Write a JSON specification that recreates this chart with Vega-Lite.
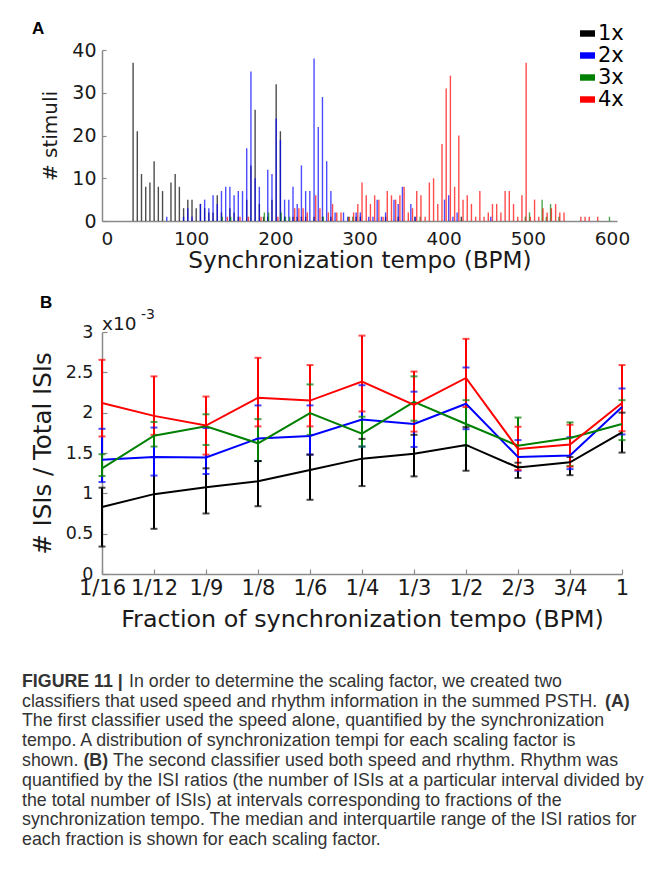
{
  "$schema": "https://vega.github.io/schema/vega-lite/v6.json",
  "background": "white",
  "padding": {"left": 22, "top": 20, "right": 5, "bottom": 5},
  "spacing": 21,
  "config": {
    "font": "DejaVu Sans",
    "view": {"stroke": null},
    "axis": {
      "grid": false,
      "domainColor": "#8a8a8a",
      "domainWidth": 1.5,
      "tickColor": "#8a8a8a",
      "tickWidth": 1.2,
      "labelColor": "#1a1a1a",
      "titleColor": "#1a1a1a",
      "labelFont": "DejaVu Sans",
      "titleFont": "DejaVu Sans",
      "titleFontWeight": "normal"
    }
  },
  "datasets": {
    "bars": [
      {"s": "1x", "t": 31, "n": 37}, {"s": "1x", "t": 36, "n": 21}, {"s": "1x", "t": 41, "n": 11}, {"s": "1x", "t": 46, "n": 8},
      {"s": "1x", "t": 51, "n": 9}, {"s": "1x", "t": 56, "n": 14}, {"s": "1x", "t": 61, "n": 8}, {"s": "1x", "t": 66, "n": 7},
      {"s": "1x", "t": 76, "n": 9}, {"s": "1x", "t": 81, "n": 11}, {"s": "1x", "t": 86, "n": 8}, {"s": "1x", "t": 91, "n": 3},
      {"s": "1x", "t": 96, "n": 5}, {"s": "1x", "t": 101, "n": 5}, {"s": "1x", "t": 106, "n": 3}, {"s": "1x", "t": 111, "n": 4},
      {"s": "1x", "t": 116, "n": 3}, {"s": "1x", "t": 121, "n": 2}, {"s": "1x", "t": 126, "n": 2}, {"s": "1x", "t": 131, "n": 6},
      {"s": "1x", "t": 136, "n": 2}, {"s": "1x", "t": 146, "n": 3}, {"s": "1x", "t": 151, "n": 2}, {"s": "1x", "t": 156, "n": 1},
      {"s": "1x", "t": 166, "n": 5}, {"s": "1x", "t": 171, "n": 13}, {"s": "1x", "t": 176, "n": 26}, {"s": "1x", "t": 181, "n": 4},
      {"s": "1x", "t": 186, "n": 1}, {"s": "1x", "t": 191, "n": 1}, {"s": "1x", "t": 196, "n": 5}, {"s": "1x", "t": 201, "n": 32},
      {"s": "1x", "t": 206, "n": 21}, {"s": "1x", "t": 211, "n": 1}, {"s": "1x", "t": 221, "n": 1}, {"s": "1x", "t": 226, "n": 1},
      {"s": "1x", "t": 231, "n": 1}, {"s": "1x", "t": 236, "n": 1}, {"s": "1x", "t": 246, "n": 1}, {"s": "1x", "t": 256, "n": 1},
      {"s": "1x", "t": 266, "n": 1}, {"s": "1x", "t": 296, "n": 1}, {"s": "1x", "t": 301, "n": 1}, {"s": "1x", "t": 331, "n": 1},
      {"s": "1x", "t": 346, "n": 1}, {"s": "1x", "t": 366, "n": 1}, {"s": "1x", "t": 421, "n": 1},
      {"s": "2x", "t": 71, "n": 1}, {"s": "2x", "t": 91, "n": 1}, {"s": "2x", "t": 96, "n": 3}, {"s": "2x", "t": 101, "n": 1},
      {"s": "2x", "t": 111, "n": 4}, {"s": "2x", "t": 116, "n": 5}, {"s": "2x", "t": 121, "n": 3}, {"s": "2x", "t": 126, "n": 6},
      {"s": "2x", "t": 131, "n": 4}, {"s": "2x", "t": 136, "n": 7}, {"s": "2x", "t": 141, "n": 8}, {"s": "2x", "t": 146, "n": 8},
      {"s": "2x", "t": 151, "n": 6}, {"s": "2x", "t": 156, "n": 7}, {"s": "2x", "t": 161, "n": 7}, {"s": "2x", "t": 166, "n": 17},
      {"s": "2x", "t": 171, "n": 35}, {"s": "2x", "t": 176, "n": 10}, {"s": "2x", "t": 181, "n": 8}, {"s": "2x", "t": 191, "n": 12},
      {"s": "2x", "t": 196, "n": 11}, {"s": "2x", "t": 201, "n": 24}, {"s": "2x", "t": 206, "n": 19}, {"s": "2x", "t": 211, "n": 5},
      {"s": "2x", "t": 216, "n": 5}, {"s": "2x", "t": 221, "n": 8}, {"s": "2x", "t": 226, "n": 4}, {"s": "2x", "t": 231, "n": 13},
      {"s": "2x", "t": 236, "n": 7}, {"s": "2x", "t": 241, "n": 7}, {"s": "2x", "t": 246, "n": 38}, {"s": "2x", "t": 251, "n": 22},
      {"s": "2x", "t": 256, "n": 29}, {"s": "2x", "t": 261, "n": 14}, {"s": "2x", "t": 266, "n": 7}, {"s": "2x", "t": 271, "n": 2},
      {"s": "2x", "t": 281, "n": 2}, {"s": "2x", "t": 286, "n": 1}, {"s": "2x", "t": 296, "n": 2}, {"s": "2x", "t": 301, "n": 2},
      {"s": "2x", "t": 311, "n": 1}, {"s": "2x", "t": 316, "n": 1}, {"s": "2x", "t": 321, "n": 5}, {"s": "2x", "t": 326, "n": 1},
      {"s": "2x", "t": 331, "n": 2}, {"s": "2x", "t": 341, "n": 5}, {"s": "2x", "t": 346, "n": 4}, {"s": "2x", "t": 351, "n": 8},
      {"s": "2x", "t": 361, "n": 4}, {"s": "2x", "t": 366, "n": 1}, {"s": "2x", "t": 401, "n": 5}, {"s": "2x", "t": 406, "n": 6},
      {"s": "2x", "t": 411, "n": 1}, {"s": "2x", "t": 416, "n": 2}, {"s": "2x", "t": 456, "n": 1},
      {"s": "3x", "t": 137, "n": 1}, {"s": "3x", "t": 147, "n": 1}, {"s": "3x", "t": 187, "n": 2}, {"s": "3x", "t": 192, "n": 2},
      {"s": "3x", "t": 207, "n": 2}, {"s": "3x", "t": 212, "n": 1}, {"s": "3x", "t": 217, "n": 1}, {"s": "3x", "t": 257, "n": 1},
      {"s": "3x", "t": 287, "n": 1}, {"s": "3x", "t": 292, "n": 1}, {"s": "3x", "t": 372, "n": 1}, {"s": "3x", "t": 497, "n": 1},
      {"s": "3x", "t": 502, "n": 2}, {"s": "3x", "t": 517, "n": 5}, {"s": "3x", "t": 522, "n": 1}, {"s": "3x", "t": 527, "n": 4},
      {"s": "3x", "t": 537, "n": 1}, {"s": "3x", "t": 597, "n": 1},
      {"s": "4x", "t": 143, "n": 1}, {"s": "4x", "t": 158, "n": 1}, {"s": "4x", "t": 168, "n": 1}, {"s": "4x", "t": 183, "n": 1},
      {"s": "4x", "t": 203, "n": 1}, {"s": "4x", "t": 223, "n": 3}, {"s": "4x", "t": 228, "n": 3}, {"s": "4x", "t": 233, "n": 3},
      {"s": "4x", "t": 238, "n": 2}, {"s": "4x", "t": 248, "n": 6}, {"s": "4x", "t": 253, "n": 3}, {"s": "4x", "t": 263, "n": 2},
      {"s": "4x", "t": 268, "n": 4}, {"s": "4x", "t": 273, "n": 2}, {"s": "4x", "t": 278, "n": 2}, {"s": "4x", "t": 288, "n": 1},
      {"s": "4x", "t": 293, "n": 2}, {"s": "4x", "t": 298, "n": 4}, {"s": "4x", "t": 303, "n": 9}, {"s": "4x", "t": 308, "n": 6},
      {"s": "4x", "t": 313, "n": 4}, {"s": "4x", "t": 318, "n": 6}, {"s": "4x", "t": 323, "n": 5}, {"s": "4x", "t": 328, "n": 1},
      {"s": "4x", "t": 333, "n": 7}, {"s": "4x", "t": 338, "n": 6}, {"s": "4x", "t": 343, "n": 5}, {"s": "4x", "t": 348, "n": 6},
      {"s": "4x", "t": 353, "n": 8}, {"s": "4x", "t": 358, "n": 2}, {"s": "4x", "t": 363, "n": 3}, {"s": "4x", "t": 368, "n": 7},
      {"s": "4x", "t": 373, "n": 6}, {"s": "4x", "t": 378, "n": 1}, {"s": "4x", "t": 383, "n": 9}, {"s": "4x", "t": 388, "n": 10},
      {"s": "4x", "t": 393, "n": 4}, {"s": "4x", "t": 398, "n": 18}, {"s": "4x", "t": 403, "n": 31}, {"s": "4x", "t": 408, "n": 34},
      {"s": "4x", "t": 413, "n": 8}, {"s": "4x", "t": 418, "n": 20}, {"s": "4x", "t": 423, "n": 5}, {"s": "4x", "t": 428, "n": 6},
      {"s": "4x", "t": 433, "n": 4}, {"s": "4x", "t": 438, "n": 1}, {"s": "4x", "t": 443, "n": 7}, {"s": "4x", "t": 448, "n": 1},
      {"s": "4x", "t": 453, "n": 2}, {"s": "4x", "t": 458, "n": 4}, {"s": "4x", "t": 463, "n": 4}, {"s": "4x", "t": 468, "n": 2},
      {"s": "4x", "t": 473, "n": 7}, {"s": "4x", "t": 478, "n": 7}, {"s": "4x", "t": 483, "n": 4}, {"s": "4x", "t": 488, "n": 1},
      {"s": "4x", "t": 493, "n": 6}, {"s": "4x", "t": 498, "n": 37}, {"s": "4x", "t": 503, "n": 1}, {"s": "4x", "t": 508, "n": 5},
      {"s": "4x", "t": 513, "n": 1}, {"s": "4x", "t": 518, "n": 3}, {"s": "4x", "t": 523, "n": 2}, {"s": "4x", "t": 528, "n": 3},
      {"s": "4x", "t": 533, "n": 4}, {"s": "4x", "t": 538, "n": 2}, {"s": "4x", "t": 543, "n": 2}, {"s": "4x", "t": 563, "n": 1},
      {"s": "4x", "t": 568, "n": 1}, {"s": "4x", "t": 573, "n": 1}, {"s": "4x", "t": 583, "n": 1}
    ],
    "isi": [
      {"s": "1x", "frac": "1/16", "med": 0.00083, "lo": 0.00034, "hi": 0.00107},
      {"s": "1x", "frac": "1/12", "med": 0.00099, "lo": 0.00056, "hi": 0.00145},
      {"s": "1x", "frac": "1/9", "med": 0.001075, "lo": 0.00075, "hi": 0.00131},
      {"s": "1x", "frac": "1/8", "med": 0.00115, "lo": 0.00084, "hi": 0.0014},
      {"s": "1x", "frac": "1/6", "med": 0.00129, "lo": 0.00092, "hi": 0.00148},
      {"s": "1x", "frac": "1/4", "med": 0.00143, "lo": 0.00109, "hi": 0.001675},
      {"s": "1x", "frac": "1/3", "med": 0.00149, "lo": 0.00121, "hi": 0.001725},
      {"s": "1x", "frac": "1/2", "med": 0.0016, "lo": 0.00128, "hi": 0.00182},
      {"s": "1x", "frac": "2/3", "med": 0.00132, "lo": 0.00119, "hi": 0.00138},
      {"s": "1x", "frac": "3/4", "med": 0.001385, "lo": 0.001225, "hi": 0.00145},
      {"s": "1x", "frac": "1", "med": 0.001755, "lo": 0.001505, "hi": 0.002},
      {"s": "2x", "frac": "1/16", "med": 0.001415, "lo": 0.00114, "hi": 0.0018},
      {"s": "2x", "frac": "1/12", "med": 0.00145, "lo": 0.00122, "hi": 0.001815},
      {"s": "2x", "frac": "1/9", "med": 0.001445, "lo": 0.00124, "hi": 0.00181},
      {"s": "2x", "frac": "1/8", "med": 0.00168, "lo": 0.0014, "hi": 0.00209},
      {"s": "2x", "frac": "1/6", "med": 0.00171, "lo": 0.00148, "hi": 0.00209},
      {"s": "2x", "frac": "1/4", "med": 0.001915, "lo": 0.00158, "hi": 0.00234},
      {"s": "2x", "frac": "1/3", "med": 0.00186, "lo": 0.001575, "hi": 0.00226},
      {"s": "2x", "frac": "1/2", "med": 0.00211, "lo": 0.001795, "hi": 0.00256},
      {"s": "2x", "frac": "2/3", "med": 0.00145, "lo": 0.00128, "hi": 0.00166},
      {"s": "2x", "frac": "3/4", "med": 0.00147, "lo": 0.0013, "hi": 0.001695},
      {"s": "2x", "frac": "1", "med": 0.00207, "lo": 0.00173, "hi": 0.0023},
      {"s": "3x", "frac": "1/16", "med": 0.00131, "lo": 0.001215, "hi": 0.001485},
      {"s": "3x", "frac": "1/12", "med": 0.001715, "lo": 0.00158, "hi": 0.001885},
      {"s": "3x", "frac": "1/9", "med": 0.00183, "lo": 0.0016, "hi": 0.00198},
      {"s": "3x", "frac": "1/8", "med": 0.00162, "lo": 0.0014, "hi": 0.00192},
      {"s": "3x", "frac": "1/6", "med": 0.001995, "lo": 0.001725, "hi": 0.00235},
      {"s": "3x", "frac": "1/4", "med": 0.00174, "lo": 0.00158, "hi": 0.00195},
      {"s": "3x", "frac": "1/3", "med": 0.002135, "lo": 0.0019, "hi": 0.00245},
      {"s": "3x", "frac": "1/2", "med": 0.00186, "lo": 0.00159, "hi": 0.002155},
      {"s": "3x", "frac": "2/3", "med": 0.00159, "lo": 0.00133, "hi": 0.00194},
      {"s": "3x", "frac": "3/4", "med": 0.001685, "lo": 0.00134, "hi": 0.00188},
      {"s": "3x", "frac": "1", "med": 0.00186, "lo": 0.00166, "hi": 0.002155},
      {"s": "4x", "frac": "1/16", "med": 0.00212, "lo": 0.001705, "hi": 0.002655},
      {"s": "4x", "frac": "1/12", "med": 0.00196, "lo": 0.001725, "hi": 0.00245},
      {"s": "4x", "frac": "1/9", "med": 0.00184, "lo": 0.00148, "hi": 0.0022},
      {"s": "4x", "frac": "1/8", "med": 0.002185, "lo": 0.00183, "hi": 0.00268},
      {"s": "4x", "frac": "1/6", "med": 0.00215, "lo": 0.00183, "hi": 0.00259},
      {"s": "4x", "frac": "1/4", "med": 0.002385, "lo": 0.002015, "hi": 0.002955},
      {"s": "4x", "frac": "1/3", "med": 0.002095, "lo": 0.001765, "hi": 0.00251},
      {"s": "4x", "frac": "1/2", "med": 0.00243, "lo": 0.00207, "hi": 0.002915},
      {"s": "4x", "frac": "2/3", "med": 0.00155, "lo": 0.00129, "hi": 0.001825},
      {"s": "4x", "frac": "3/4", "med": 0.001605, "lo": 0.00133, "hi": 0.00185},
      {"s": "4x", "frac": "1", "med": 0.00212, "lo": 0.00177, "hi": 0.00259}
    ],
    "caption": [
      {"line": 1, "seg": "b1", "text": "FIGURE 11 |"},
      {"line": 1, "seg": "n1", "text": "In order to determine the scaling factor, we created two"},
      {"line": 2, "seg": "n", "text": "classifiers that used speed and rhythm information in the summed PSTH."},
      {"line": 2, "seg": "bA", "text": "(A)"},
      {"line": 3, "seg": "n", "text": "The first classifier used the speed alone, quantified by the synchronization"},
      {"line": 4, "seg": "n", "text": "tempo. A distribution of synchronization tempi for each scaling factor is"},
      {"line": 5, "seg": "n", "text": "shown."},
      {"line": 5, "seg": "bB", "text": "(B)"},
      {"line": 5, "seg": "n5", "text": "The second classifier used both speed and rhythm. Rhythm was"},
      {"line": 6, "seg": "n", "text": "quantified by the ISI ratios (the number of ISIs at a particular interval divided by"},
      {"line": 7, "seg": "n", "text": "the total number of ISIs) at intervals corresponding to fractions of the"},
      {"line": 8, "seg": "n", "text": "synchronization tempo. The median and interquartile range of the ISI ratios for"},
      {"line": 9, "seg": "n", "text": "each fraction is shown for each scaling factor."}
    ]
  },
  "vconcat": [
    {
      "width": 515,
      "height": 171,
      "title": {"text": "A", "anchor": "start", "frame": "group", "font": "Liberation Sans", "fontSize": 17, "fontWeight": "bold", "color": "#000000", "dx": -70, "dy": -3, "offset": 0},
      "data": {"name": "bars"},
      "mark": {"type": "bar", "width": 1.4, "opacity": 0.7},
      "encoding": {
        "x": {"field": "t", "type": "quantitative", "scale": {"domain": [0, 600], "nice": false, "zero": false},
          "axis": {"values": [0, 100, 200, 300, 400, 500, 600], "title": "Synchronization tempo (BPM)", "labelFontSize": 18.5, "titleFontSize": 23.2, "tickSize": 0, "labelPadding": 8, "titlePadding": 2, "labelFlush": false}},
        "y": {"field": "n", "type": "quantitative", "stack": null, "scale": {"domain": [0, 40], "nice": false},
          "axis": {"values": [0, 10, 20, 30, 40], "title": "# stimuli", "labelFontSize": 19, "titleFontSize": 20, "tickSize": -4, "labelPadding": 10, "titlePadding": 11, "labelFlush": false}},
        "color": {"field": "s", "type": "nominal", "scale": {"domain": ["1x", "2x", "3x", "4x"], "range": ["#000000", "#0000ff", "#008000", "#ff0000"]},
          "legend": {"orient": "none", "legendX": 475, "legendY": -27, "title": null, "symbolType": "M-1,-0.43L1,-0.43L1,0.43L-1,0.43Z", "symbolSize": 225, "symbolStrokeWidth": 0, "symbolOpacity": 1, "labelFontSize": 21, "labelFont": "DejaVu Sans", "labelColor": "#000000", "rowPadding": 0, "labelOffset": 0}}
      }
    },
    {
      "width": 520,
      "height": 242,
      "title": {"text": "B", "anchor": "start", "frame": "group", "font": "Liberation Sans", "fontSize": 17, "fontWeight": "bold", "color": "#000000", "dx": -62, "offset": -3.5},
      "data": {"name": "isi"},
      "encoding": {
        "x": {"field": "frac", "type": "ordinal", "sort": ["1/16", "1/12", "1/9", "1/8", "1/6", "1/4", "1/3", "1/2", "2/3", "3/4", "1"], "scale": {"type": "point", "padding": 0},
          "axis": {"title": "Fraction of synchronization tempo (BPM)", "labelAngle": 0, "labelFontSize": 21, "titleFontSize": 23.8, "tickSize": -5, "labelPadding": 8, "titlePadding": 9}}
      },
      "layer": [
        {
          "mark": {"type": "rule", "strokeWidth": 2},
          "encoding": {
            "y": {"field": "lo", "type": "quantitative", "scale": {"domain": [0, 0.003], "nice": false},
              "axis": {"values": [0, 0.0005, 0.001, 0.0015, 0.002, 0.0025, 0.003], "labelExpr": "format(datum.value * 1000, '.3~g')", "title": "# ISIs / Total ISIs", "labelFontSize": 17.5, "titleFontSize": 24.5, "tickSize": -5, "labelPadding": 14, "titlePadding": 10, "labelFlush": false}},
            "y2": {"field": "hi"},
            "color": {"field": "s", "type": "nominal", "scale": {"domain": ["1x", "2x", "3x", "4x"], "range": ["#000000", "#0000ff", "#008000", "#ff0000"]}, "legend": null}
          }
        },
        {
          "mark": {"type": "tick", "thickness": 2, "size": 7},
          "encoding": {
            "y": {"field": "lo", "type": "quantitative"},
            "color": {"field": "s", "type": "nominal", "legend": null}
          }
        },
        {
          "mark": {"type": "tick", "thickness": 2, "size": 7},
          "encoding": {
            "y": {"field": "hi", "type": "quantitative"},
            "color": {"field": "s", "type": "nominal", "legend": null}
          }
        },
        {
          "mark": {"type": "line", "strokeWidth": 2},
          "encoding": {
            "y": {"field": "med", "type": "quantitative"},
            "color": {"field": "s", "type": "nominal", "legend": null}
          }
        },
        {
          "data": {"values": [{"label": "x10"}]},
          "mark": {"type": "text", "align": "left", "baseline": "alphabetic", "fontSize": 18.5, "font": "DejaVu Sans", "color": "#1a1a1a", "dy": -2},
          "encoding": {"x": {"datum": "1/16"}, "y": {"datum": 0.003}, "text": {"field": "label"}}
        },
        {
          "data": {"values": [{"label": "-3"}]},
          "mark": {"type": "text", "align": "left", "baseline": "alphabetic", "fontSize": 14, "font": "DejaVu Sans", "color": "#1a1a1a", "dx": 39, "dy": -13},
          "encoding": {"x": {"datum": "1/16"}, "y": {"datum": 0.003}, "text": {"field": "label"}}
        }
      ]
    },
    {
      "width": 515,
      "height": 198,
      "data": {"name": "caption"},
      "encoding": {
        "y": {"field": "line", "type": "quantitative", "axis": null, "scale": {"domain": [-0.5, 9.5], "reverse": true, "nice": false, "zero": false}},
        "x": {"datum": 0, "type": "quantitative", "scale": {"domain": [0, 1]}, "axis": null},
        "text": {"field": "text"}
      },
      "layer": [
        {"transform": [{"filter": "datum.seg == 'n'"}], "mark": {"type": "text", "align": "left", "dx": -80, "font": "Liberation Sans", "fontSize": 17.8, "color": "#333333"}},
        {"transform": [{"filter": "datum.seg == 'n1'"}], "mark": {"type": "text", "align": "left", "dx": 27, "font": "Liberation Sans", "fontSize": 17.8, "color": "#333333"}},
        {"transform": [{"filter": "datum.seg == 'n5'"}], "mark": {"type": "text", "align": "left", "dx": 11, "font": "Liberation Sans", "fontSize": 17.8, "color": "#333333"}},
        {"transform": [{"filter": "datum.seg == 'b1'"}], "mark": {"type": "text", "align": "left", "dx": -80, "font": "Liberation Sans", "fontSize": 17.8, "fontWeight": "bold", "color": "#333333"}},
        {"transform": [{"filter": "datum.seg == 'bA'"}], "mark": {"type": "text", "align": "left", "dx": 503, "font": "Liberation Sans", "fontSize": 17.8, "fontWeight": "bold", "color": "#333333"}},
        {"transform": [{"filter": "datum.seg == 'bB'"}], "mark": {"type": "text", "align": "left", "dx": -18.6, "font": "Liberation Sans", "fontSize": 17.8, "fontWeight": "bold", "color": "#333333"}}
      ]
    }
  ]
}
